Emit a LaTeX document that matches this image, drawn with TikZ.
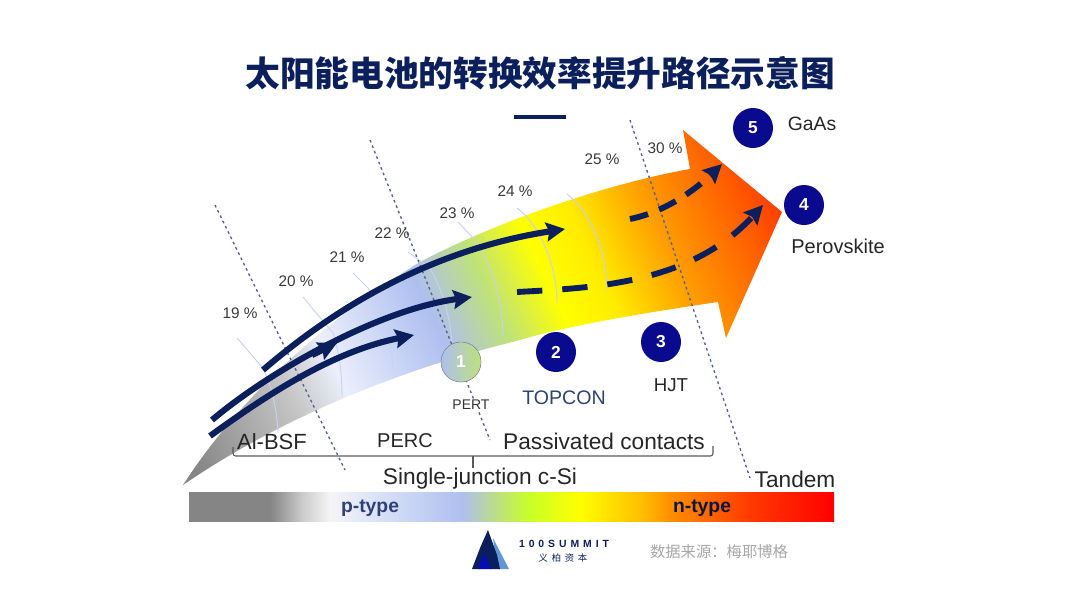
\documentclass[tikz,border=0pt]{standalone}
\usepackage{fontspec}
\setmainfont{Liberation Sans}
\newfontfamily\cjk{Noto Sans CJK SC}
\newfontfamily\logofont[LetterSpace=38]{Liberation Sans}
\newfontfamily\logocjk[LetterSpace=40]{Noto Sans CJK SC}
\usetikzlibrary{arrows.meta}
\definecolor{navy}{HTML}{0B1F5C}
\definecolor{dotblue}{HTML}{0A0A8E}
\definecolor{dashgray}{HTML}{55608C}
\definecolor{tailgray}{HTML}{858585}
\definecolor{paleblue}{HTML}{AEBFF0}
\definecolor{palegreen}{HTML}{BEE27A}
\definecolor{tickblue}{HTML}{C8D2EE}
\pgfdeclarehorizontalshading{bargrad}{100bp}{color(0bp)=(tailgray);color(31.3bp)=(tailgray);color(33.8bp)=(black!20);color(35.9bp)=(black!4);color(39bp)=(paleblue!40);color(46.2bp)=(paleblue);color(49.1bp)=(palegreen);color(51.4bp)=(green!25!yellow!85!white);color(55.3bp)=(yellow);color(60bp)=(orange!50!yellow);color(62.5bp)=(orange!90!yellow);color(68.5bp)=(orange!45!red);color(75bp)=(red);color(100bp)=(red)}
\pgfdeclarehorizontalshading{arrowgrad}{100bp}{color(0bp)=(tailgray);color(33bp)=(tailgray);color(39bp)=(black!22);color(41.5bp)=(paleblue!25);color(47bp)=(paleblue);color(50bp)=(palegreen);color(53bp)=(yellow);color(55.5bp)=(yellow!85!orange);color(59bp)=(orange!75!yellow);color(63bp)=(orange!75!red);color(66bp)=(orange!35!red);color(100bp)=(red)}
\tikzset{
  pctlabel/.style={font=\fontsize{11.5}{13}\selectfont, text=black!78},
  darrow/.style={navy, line width=4.6pt, -{Stealth[inset=2pt,length=14pt,width=14pt]}},
  dashdarrow/.style={navy, line width=4.4pt, dash pattern=on 19pt off 15pt, -{Stealth[inset=2pt,length=14pt,width=14pt]}},
  tick/.style={tickblue, line width=0.7pt},
  dotline/.style={dashgray, line width=1pt, dash pattern=on 2pt off 2.4pt},
  numdot/.style={circle, fill=dotblue, minimum size=30pt, inner sep=0pt, text=white, font=\bfseries\fontsize{13}{15}\selectfont},
  itemlabel/.style={font=\fontsize{17}{20}\selectfont, text=black!85}
}
\begin{document}
\begin{tikzpicture}[>=Latex,x=0.75pt,y=-0.75pt]
\useasboundingbox (0,0) rectangle (1080,607);
% title
\node (title) at (540,73) {\cjk\bfseries\fontsize{26}{30}\selectfont\color{navy}太阳能电池的转换效率提升路径示意图};
\draw[navy, line width=3.6pt] (514,117) -- (566,117);
% big arrow
\begin{scope}
\clip (183,485) .. controls (225,420) and (300,335) .. (420,262)
  .. controls (490,225) and (600,185) .. (690,169) -- (683,130) -- (782,212) -- (726,338) -- (718,302)
  .. controls (650,312) and (570,325) .. (520,340)
  .. controls (430,362) and (300,405) .. (183,485) -- cycle;
\shade[shading=arrowgrad, shading angle=25] (0,-180) rectangle (1000,820);
\end{scope}
% ticks
\draw[tick] (237,338) -- (262,367) .. controls (272,385) and (277,410) .. (278,433);
\draw[tick] (303,297) -- (333,333) .. controls (340,355) and (342,375) .. (342,397);
\draw[tick] (353,273) -- (368,288) .. controls (385,315) and (393,345) .. (393,370);
\draw[tick] (408,252) -- (430,268) .. controls (445,295) and (452,325) .. (452,350);
\draw[tick] (458,222) -- (473,238) .. controls (492,265) and (503,300) .. (503,337);
\draw[tick] (517,208) .. controls (540,225) and (557,265) .. (557,303);
\draw[tick] (567,194) .. controls (590,212) and (607,250) .. (607,290);
% dotted dividers
\draw[dotline] (215,205) -- (345,470);
\draw[dotline] (370,140) -- (490,440);
\draw[dotline] (630,120) -- (750,478);
% solid arrows
\draw[darrow] (263,370) .. controls (335,308) and (430,250) .. (565,229);
\draw[darrow] (212,420) .. controls (265,375) and (375,310) .. (472,297);
\draw[darrow] (210,436) .. controls (280,385) and (340,350) .. (414,335);
\draw[darrow] (312,355) -- (337,343);
% dashed arrows
\draw[dashdarrow] (517,292) .. controls (590,288) and (690,285) .. (763,205);
\draw[dashdarrow, dash pattern=on 14pt off 9pt] (630,219) .. controls (665,212) and (695,190) .. (722,164);
% percent labels
\foreach \x/\y/\t in {240/313/19,296/281/20,347/257/21,392/233/22,457/213/23,515/191/24,602/159/25,665/148/30} {
  \node[pctlabel] (pct\t) at (\x,\y) {\t\ \%};
}
% numbered circles
\node[numdot, draw=black!45, left color=paleblue, right color=palegreen] (tech1) at (461,362) {1};
\foreach \x/\y/\n in {556/352/2,661/342/3,804/205/4,753/128/5} {
  \node[numdot] (tech\n) at (\x,\y) {\n};
}
% technology labels
\node[font=\fontsize{10.5}{12}\selectfont, text=black!80, fill=white, inner sep=1pt] (pert) at (471,405) {PERT};
\node[itemlabel, font=\fontsize{14.7}{18}\selectfont, text=navy!85] (topcon) at (564,398) {TOPCON};
\node[itemlabel, font=\fontsize{14}{16}\selectfont] (hjt) at (671,385) {HJT};
\node[itemlabel, font=\fontsize{14.5}{16}\selectfont] (gaas) at (812,124) {GaAs};
\node[itemlabel, font=\fontsize{15}{16}\selectfont] (perov) at (838,246) {Perovskite};
\node[itemlabel, font=\fontsize{16.5}{20}\selectfont] (albsf) at (272,442) {Al-BSF};
\node[itemlabel, font=\fontsize{15}{20}\selectfont] (perc) at (405,441) {PERC};
\node[itemlabel] (passiv) at (604,441) {Passivated contacts};
\node[itemlabel] (single) at (480,479) {Single-junction c-Si};
\node[itemlabel] (tandem) at (795,479) {Tandem};
% brace
\draw[black!65, line width=0.8pt, rounded corners=2pt] (233,447) -- (233,456) -- (713,456) -- (713,446);
\draw[black!65, line width=0.8pt] (473,456) -- (473,468);
% type bar
\shade[shading=bargrad] (189,492) rectangle (834,521);
\node[font=\bfseries\fontsize{14.5}{16}\selectfont, text=navy!85] (ptype) at (370,508) {p-type};
\node[font=\bfseries\fontsize{14.5}{16}\selectfont, text=navy!70!black] (ntype) at (702,508) {n-type};
% logo
\fill[cyan!55!blue!65] (493,538) -- (509,569) -- (497,569) -- cycle;
\fill[navy] (472,569) -- (480,548) -- (488,530) -- (497,555) -- (500,569) -- (490,569) -- (484,556) -- (480,569) -- cycle;
\fill[blue!55!navy] (478,569) -- (484,553) -- (491,569) -- cycle;
\node[font=\logofont\bfseries\fontsize{7.8}{9}\selectfont, text=navy] (logoen) at (564,544) {100SUMMIT};
\node[font=\logocjk\fontsize{7}{9}\selectfont, text=navy] (logocn) at (563,558) {义柏资本};
% source
\node[font=\cjk\fontsize{11.5}{14}\selectfont, text=black!35] (source) at (719,552) {数据来源：梅耶博格};
\end{tikzpicture}
\end{document}
